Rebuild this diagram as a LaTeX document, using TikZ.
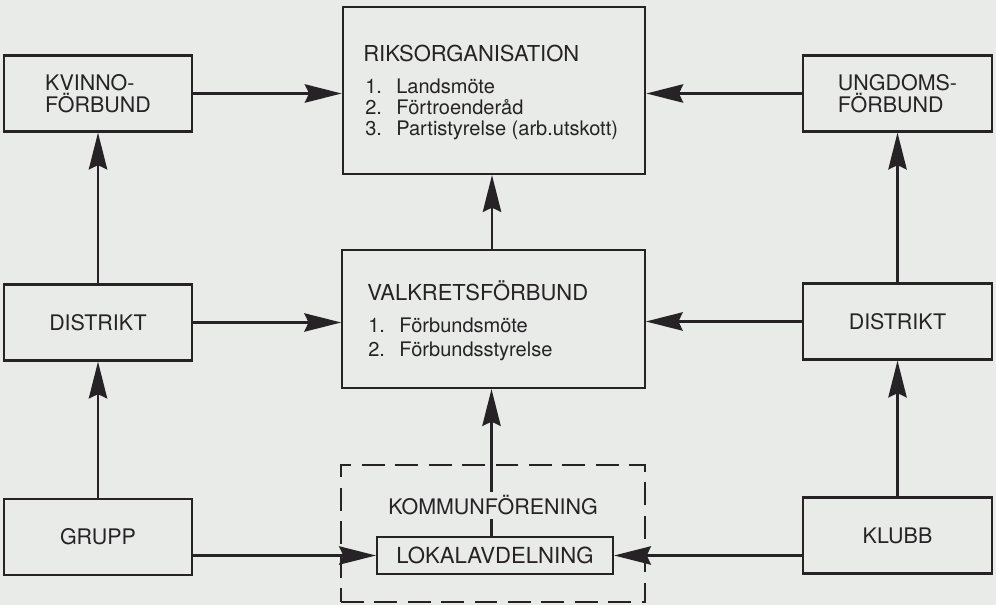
\documentclass[tikz,border=0pt]{standalone}
\usepackage{fontspec}
\setmainfont{TeX Gyre Heros}
\usetikzlibrary{arrows.meta}
\definecolor{papper}{RGB}{233,235,232}
\definecolor{svart}{RGB}{38,34,38}
\newcommand{\punkt}[2]{\makebox[17.6pt][l]{#1}#2}

\begin{document}
\begin{tikzpicture}[
        every node/.style={text=svart},
        sidebox/.style={draw=svart, line width=1.3pt, minimum width=3.77cm, minimum height=1.52cm,
            align=left, font=\fontsize{12.2}{10.5}\selectfont},
        storbox/.style={draw=svart, line width=1.3pt, minimum width=6.05cm},
        rubrik/.style={inner sep=0pt, anchor=base west, font=\fontsize{12.5}{14}\selectfont},
        rad/.style={inner sep=0pt, anchor=base west, font=\fontsize{11.4}{13}\selectfont},
        pil/.style={draw=svart, line width=1.2pt, -{Stealth[length=21pt, width=10.5pt, inset=2.5pt]}}
    ]
    \useasboundingbox (0,0) rectangle (19.92,12.10);
    \fill[papper] (0,0) rectangle (19.92,12.10);

    % left column
    \node[sidebox] (kvinno) at (1.96,10.23) {KVINNO-\\FÖRBUND};
    \node[sidebox] (distV) at (1.96,5.65) {DISTRIKT};
    \node[sidebox] (grupp) at (1.96,1.36) {GRUPP};

    % right column
    \node[sidebox] (ungdom) at (17.95,10.23) {UNGDOMS-\\FÖRBUND};
    \node[sidebox] (distH) at (17.95,5.67) {DISTRIKT};
    \node[sidebox] (klubb) at (17.95,1.39) {KLUBB};

    % middle column
    \node[storbox, minimum height=3.34cm] (riks) at (9.88,10.29) {};
    \node[rubrik] (riks-rubrik) at (7.26,10.86) {RIKSORGANISATION};
    \node[rad] (riks-1) at (7.30,10.22) {\punkt{1.}{Landsmöte}};
    \node[rad] (riks-2) at (7.30,9.80) {\punkt{2.}{Förtroenderåd}};
    \node[rad] (riks-3) at (7.30,9.38) {\punkt{3.}{Partistyrelse (arb.utskott)}};

    \node[storbox, minimum height=2.76cm] (valk) at (9.87,5.72) {};
    \node[rubrik] (valk-rubrik) at (7.34,6.09) {VALKRETSFÖRBUND};
    \node[rad] (valk-1) at (7.36,5.44) {\punkt{1.}{Förbundsmöte}};
    \node[rad] (valk-2) at (7.36,4.97) {\punkt{2.}{Förbundsstyrelse}};

    \node[draw=svart, line width=1.3pt, dash pattern=on 13pt off 6pt, minimum width=6.08cm,
        minimum height=2.74cm] (kommun) at (9.86,1.43) {};
    \node[draw=svart, line width=1.3pt, minimum width=4.72cm, minimum height=0.74cm,
        font=\fontsize{12.6}{14}\selectfont] (lokal) at (9.90,0.99) {LOKALAVDELNING};

    % connectors
    \draw[pil] (kvinno.east) -- (kvinno.east -| riks.west);
    \draw[pil] (ungdom.west) -- (ungdom.west -| riks.east);
    \draw[pil] (distV.north) -- (kvinno.south);
    \draw[pil] (distH.north) -- (ungdom.south);
    \draw[pil] (grupp.north) -- (distV.south);
    \draw[pil] (klubb.north) -- (distH.south);
    \draw[pil] (distV.east) -- (distV.east -| valk.west);
    \draw[pil] (distH.west) -- (distH.west -| valk.east);
    \draw[pil] (valk.north -| 9.84,0) -- (riks.south -| 9.84,0);
    \draw[pil] (grupp.east |- lokal.west) -- (lokal.west);
    \draw[pil] (klubb.west |- lokal.east) -- (lokal.east);
    \draw[pil] (lokal.north -| 9.83,0) -- (valk.south -| 9.83,0);

    \node[fill=papper, inner sep=2pt, anchor=base, font=\fontsize{12.2}{14}\selectfont]
        (kommun-text) at (9.86,1.80) {KOMMUNFÖRENING};
\end{tikzpicture}
\end{document}
